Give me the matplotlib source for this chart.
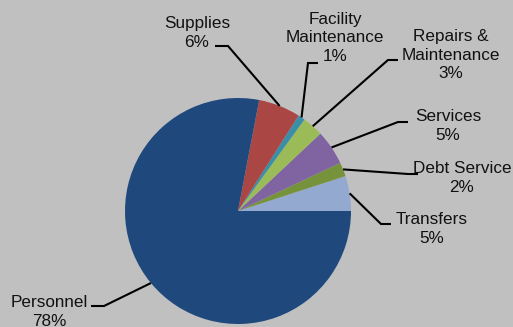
import numpy as np
import matplotlib
matplotlib.use("Agg")
import matplotlib.pyplot as plt

# Budget share by category (percent), drawn counter-clockwise from 3 o'clock
categories = ["Transfers", "Debt Service", "Services", "Repairs &\nMaintenance",
              "Facility\nMaintenance", "Supplies", "Personnel"]
shares = [5, 2, 5, 3, 1, 6, 78]
colors = ["#93A9D0", "#76933C", "#7F64A1", "#9BBB59", "#3A8FA8", "#AA4643", "#1F497D"]

# Label placement: (elbow point, text anchor point, horizontal side) in pixel units
label_layout = [
    ((381, 224), (432, 229), "left"),
    ((408, 174), (462, 178), "left"),
    ((398, 122), (448, 126), "left"),
    ((388, 60), (451, 55), "left"),
    ((308, 63), (335, 38), "left"),
    ((228, 46), (197, 33), "right"),
    ((104, 306), (49, 312), "right"),
]

W, H = 513, 327
fig = plt.figure(figsize=(W / 100, H / 100), dpi=100)
fig.patch.set_facecolor("#C0C0C0")
ax = fig.add_axes([0, 0, 1, 1])
ax.set_facecolor("#C0C0C0")

cx, cy, r = 238, H - 211, 113
wedges, _ = ax.pie(shares, colors=colors, startangle=0, counterclock=True,
                   center=(cx, cy), radius=r, frame=True,
                   wedgeprops=dict(linewidth=0))
ax.set_xlim(0, W)
ax.set_ylim(0, H)
ax.set_aspect("equal")
ax.axis("off")

font = ["Liberation Sans", "DejaVu Sans"]
for w, cat, val, (elbow, txt, side) in zip(wedges, categories, shares, label_layout):
    mid = np.deg2rad((w.theta1 + w.theta2) / 2)
    sx, sy = cx + r * np.cos(mid), cy + r * np.sin(mid)
    ex, ey = elbow[0], H - elbow[1]
    tx, ty = txt[0], H - txt[1]
    # leader: from wedge rim to elbow, then a short horizontal run to the text
    hx = ex + 10 if side == "left" else ex - 13
    ax.plot([sx, ex, hx], [sy, ey, ey], color="black", lw=1.5,
            solid_capstyle="butt", solid_joinstyle="miter")
    ax.text(tx, ty, f"{cat}\n{val}%", ha="center", va="center",
            fontsize=12.3, family=font, color="#111111", linespacing=1.32)

fig.savefig("out.png", dpi=100, facecolor=fig.get_facecolor())
